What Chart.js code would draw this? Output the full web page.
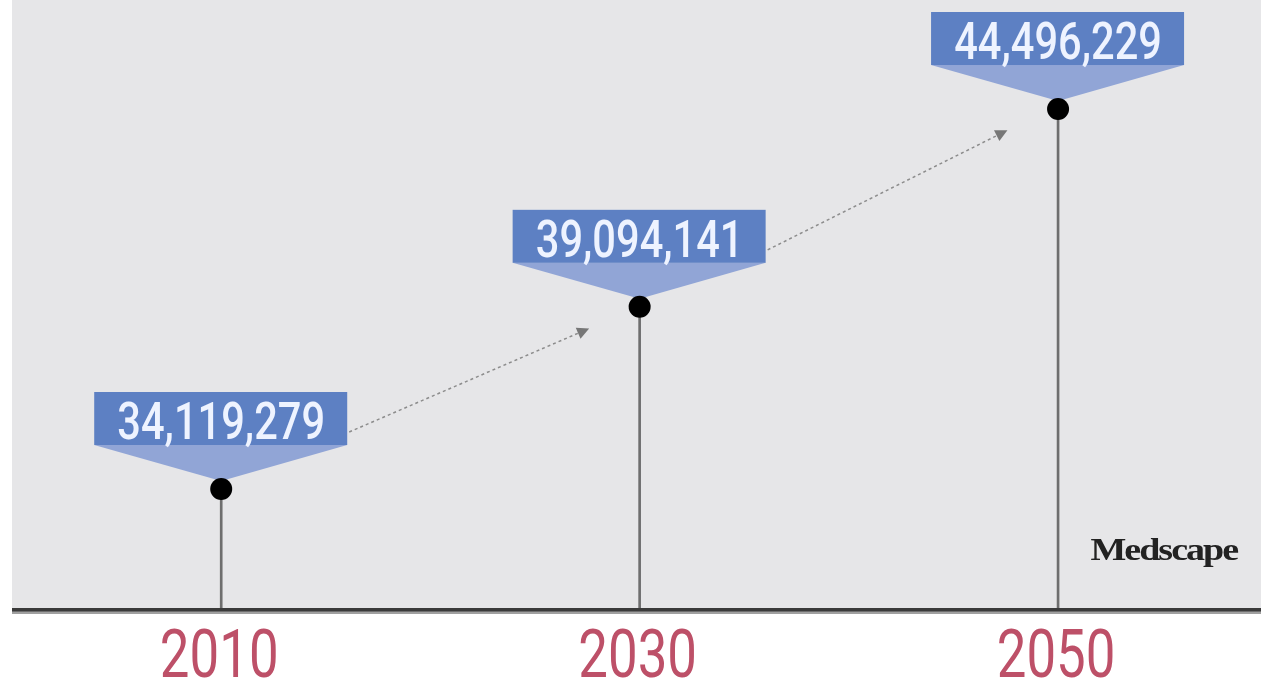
<!DOCTYPE html>
<html>
<head>
<meta charset="utf-8">
<script src="https://cdn.jsdelivr.net/npm/chart.js@4.4.1/dist/chart.umd.min.js"></script>
<style>
  html, body { margin: 0; padding: 0; background: #fff; }
  canvas { display: block; }
</style>
</head>
<body>
<canvas id="popChart" width="1261" height="682"></canvas>
<script>
const years = [2010, 2030, 2050];
const population = [34119279, 39094141, 44496229];

const points = years.map(function (y, i) { return { x: y, y: population[i] }; });

// gray panel behind the plot
const panelPlugin = {
  id: 'panel',
  beforeDraw: function (chart) {
    const ctx = chart.ctx, a = chart.chartArea;
    ctx.save();
    ctx.fillStyle = '#fff';
    ctx.fillRect(0, 0, chart.width, chart.height);
    ctx.fillStyle = '#e6e6e8';
    ctx.fillRect(a.left, a.top, a.right - a.left, a.bottom - a.top);
    ctx.restore();
  }
};

function arrow(ctx, x1, y1, x2, y2) {
  ctx.save();
  ctx.strokeStyle = '#8c8c8c';
  ctx.lineWidth = 1.5;
  ctx.setLineDash([3, 3]);
  ctx.beginPath();
  ctx.moveTo(x1, y1);
  ctx.lineTo(x2, y2);
  ctx.stroke();
  const ang = Math.atan2(y2 - y1, x2 - x1);
  ctx.setLineDash([]);
  ctx.fillStyle = '#777';
  ctx.translate(x2, y2);
  ctx.rotate(ang);
  ctx.beginPath();
  ctx.moveTo(6, 0);
  ctx.lineTo(-6, -6);
  ctx.lineTo(-6, 6);
  ctx.closePath();
  ctx.fill();
  ctx.restore();
}

// callout boxes with the value, plus dotted arrows between them
const calloutPlugin = {
  id: 'callouts',
  beforeDatasetsDraw: function (chart) {
    const ctx = chart.ctx;
    const xs = chart.scales.x, ys = chart.scales.y;
    const pos = points.map(function (p) {
      return { x: xs.getPixelForValue(p.x), y: ys.getPixelForValue(p.y) };
    });

    for (let i = 0; i < pos.length - 1; i++) {
      arrow(ctx, pos[i].x + 128, pos[i].y - 57, pos[i + 1].x - 56, pos[i + 1].y + 24);
    }

    pos.forEach(function (p, i) {
      const left = p.x - 127, right = p.x + 126;
      const bottom = p.y - 44, top = p.y - 97;
      ctx.save();
      ctx.fillStyle = '#91a5d6';
      ctx.beginPath();
      ctx.moveTo(left, bottom);
      ctx.lineTo(right, bottom);
      ctx.lineTo(p.x, p.y - 8);
      ctx.closePath();
      ctx.fill();
      ctx.fillStyle = '#5d80c3';
      ctx.fillRect(left, top, right - left, bottom - top);

      ctx.translate(p.x, bottom - 6);
      ctx.scale(0.8, 1);
      ctx.fillStyle = '#eef3ff';
      ctx.font = '500 52px Roboto';
      ctx.textAlign = 'center';
      ctx.textBaseline = 'alphabetic';
      ctx.fillText(population[i].toLocaleString('en-US'), 0, 0);
      ctx.restore();
    });
  }
};

// baseline, year labels and credit
const axisPlugin = {
  id: 'axisLabels',
  afterDraw: function (chart) {
    const ctx = chart.ctx, a = chart.chartArea;
    const xs = chart.scales.x;
    ctx.save();
    ctx.fillStyle = '#a0a0a0';
    ctx.fillRect(a.left, a.bottom + 1, a.right - a.left, 3);
    ctx.fillStyle = '#3a3a3a';
    ctx.fillRect(a.left, a.bottom - 2, a.right - a.left, 3.5);

    years.forEach(function (y) {
      ctx.save();
      ctx.translate(xs.getPixelForValue(y) - 2, a.bottom + 67);
      ctx.scale(0.8, 1);
      ctx.fillStyle = '#bd5068';
      ctx.font = '400 66px Roboto';
      ctx.textAlign = 'center';
      ctx.textBaseline = 'alphabetic';
      ctx.fillText(String(y), 0, 0);
      ctx.restore();
    });

    ctx.fillStyle = '#222';
    ctx.font = 'bold 38px "Liberation Serif"';
    ctx.textAlign = 'right';
    ctx.textBaseline = 'alphabetic';
    if ('letterSpacing' in ctx) ctx.letterSpacing = '-2px';
    ctx.translate(1237, 560);
    ctx.scale(1, 0.85);
    ctx.fillText('Medscape', 0, 0);
    ctx.restore();
  }
};

new Chart(document.getElementById('popChart'), {
  type: 'scatter',
  data: {
    datasets: [
      {
        type: 'scatter',
        data: points,
        pointRadius: 11,
        pointHoverRadius: 11,
        pointBackgroundColor: '#000',
        pointBorderWidth: 0,
        order: 1
      },
      {
        type: 'bar',
        data: points,
        barThickness: 2,
        backgroundColor: '#6e6e6e',
        order: 2
      }
    ]
  },
  options: {
    responsive: false,
    animation: false,
    layout: { autoPadding: false, padding: { left: 12, right: 0, top: 0, bottom: 72 } },
    plugins: { legend: { display: false }, tooltip: { enabled: false } },
    scales: {
      x: { type: 'linear', offset: false, min: 2000, max: 2059.7, display: false },
      y: { type: 'linear', min: 30815000, max: 47473000, display: false }
    }
  },
  plugins: [panelPlugin, calloutPlugin, axisPlugin]
});
</script>
</body>
</html>
